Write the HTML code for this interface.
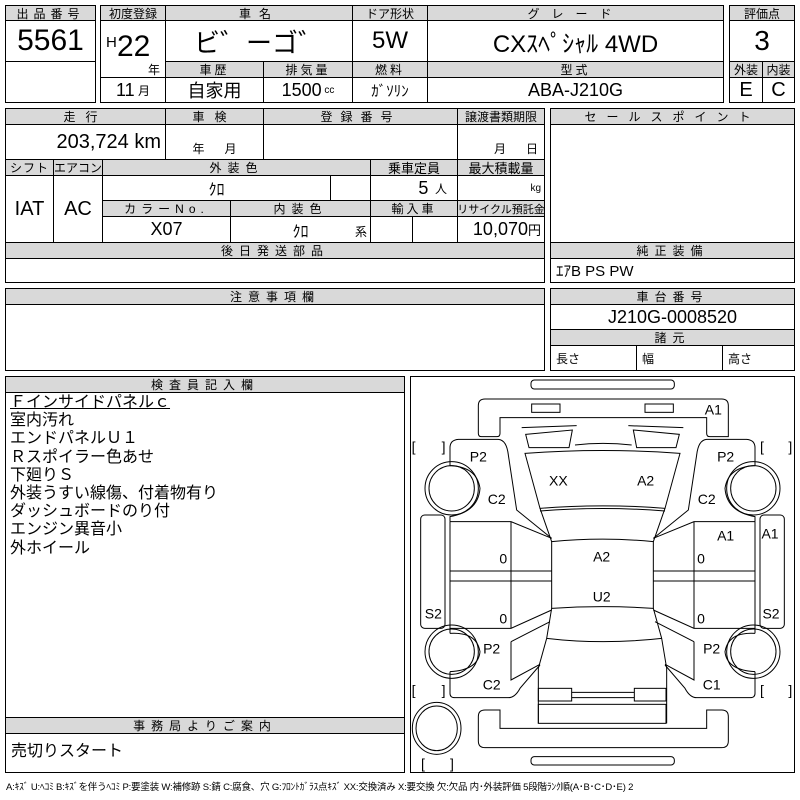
<!DOCTYPE html>
<html><head><meta charset="utf-8"><style>
body{margin:0;background:#fff;}
#p{position:relative;width:800px;height:800px;overflow:hidden;font-family:"Liberation Sans","Noto Sans CJK JP",sans-serif;color:#000;}
.c{position:absolute;box-sizing:border-box;border:1px solid #000;display:flex;align-items:center;justify-content:center;white-space:nowrap;}
.h{background:#d9d9d9;font-size:12px;letter-spacing:3px;}
.v{font-size:18px;}
.t{position:absolute;white-space:nowrap;}
</style></head><body><div id="p">
<div class="c h" style="left:5px;top:5px;width:91px;height:16px;letter-spacing:5px">出品番号</div>
<div class="c" style="left:5px;top:20px;width:91px;height:42px;font-size:30px">5561</div>
<div class="c" style="left:5px;top:61px;width:91px;height:42px"></div>
<div class="c h" style="left:100px;top:5px;width:66px;height:16px;letter-spacing:0">初度登録</div>
<div class="c h" style="left:165px;top:5px;width:188px;height:16px;letter-spacing:8px">車名</div>
<div class="c h" style="left:352px;top:5px;width:76px;height:16px;letter-spacing:0">ドア形状</div>
<div class="c h" style="left:427px;top:5px;width:297px;height:16px;letter-spacing:12px">グレード</div>
<div class="c" style="left:100px;top:20px;width:66px;height:58px"></div>
<div class="t" style="left:106px;top:34px;font-size:15px">H</div>
<div class="t" style="left:117px;top:30px;font-size:30px">22</div>
<div class="t" style="left:148px;top:61px;font-size:12px">年</div>
<div class="c" style="left:165px;top:20px;width:188px;height:42px;font-size:26px">ビ゛ーゴ゛</div>
<div class="c" style="left:352px;top:20px;width:76px;height:42px;font-size:24px">5W</div>
<div class="c" style="left:427px;top:20px;width:297px;height:42px;font-size:24px">CXｽﾍﾟｼｬﾙ 4WD</div>
<div class="c h" style="left:165px;top:61px;width:99px;height:17px">車歴</div>
<div class="c h" style="left:263px;top:61px;width:90px;height:17px">排気量</div>
<div class="c h" style="left:352px;top:61px;width:76px;height:17px">燃料</div>
<div class="c h" style="left:427px;top:61px;width:297px;height:17px">型式</div>
<div class="c" style="left:100px;top:77px;width:66px;height:26px;font-size:18px">11 <span style="font-size:12px">&nbsp;月</span></div>
<div class="c v" style="left:165px;top:77px;width:99px;height:26px">自家用</div>
<div class="c v" style="left:263px;top:77px;width:90px;height:26px">1500 <span style="font-size:10px">&nbsp;cc</span></div>
<div class="c" style="left:352px;top:77px;width:76px;height:26px;font-size:15px">ｶﾞｿﾘﾝ</div>
<div class="c v" style="left:427px;top:77px;width:297px;height:26px">ABA-J210G</div>
<div class="c h" style="left:729px;top:5px;width:66px;height:16px;letter-spacing:0">評価点</div>
<div class="c" style="left:729px;top:20px;width:66px;height:42px;font-size:28px">3</div>
<div class="c h" style="left:729px;top:61px;width:34px;height:17px;letter-spacing:0">外装</div>
<div class="c h" style="left:762px;top:61px;width:33px;height:17px;letter-spacing:0">内装</div>
<div class="c" style="left:729px;top:77px;width:34px;height:26px;font-size:20px">E</div>
<div class="c" style="left:762px;top:77px;width:33px;height:26px;font-size:20px">C</div>
<div class="c h" style="left:5px;top:108px;width:161px;height:17px;letter-spacing:10px">走行</div>
<div class="c h" style="left:165px;top:108px;width:99px;height:17px;letter-spacing:10px">車検</div>
<div class="c h" style="left:263px;top:108px;width:195px;height:17px;letter-spacing:8px">登録番号</div>
<div class="c h" style="left:457px;top:108px;width:88px;height:17px;letter-spacing:0">譲渡書類期限</div>
<div class="c" style="left:5px;top:124px;width:161px;height:36px;font-size:20px;justify-content:flex-end;padding-right:4px">203,724 km</div>
<div class="c" style="left:165px;top:124px;width:99px;height:36px;font-size:12px;align-items:flex-end;padding-bottom:2px">年&nbsp;&nbsp;&nbsp;&nbsp;&nbsp;&nbsp;月</div>
<div class="c" style="left:263px;top:124px;width:195px;height:36px"></div>
<div class="c" style="left:457px;top:124px;width:88px;height:36px;font-size:12px;align-items:flex-end;justify-content:flex-end;padding:0 6px 2px 0">月&nbsp;&nbsp;&nbsp;&nbsp;&nbsp;&nbsp;日</div>
<div class="c h" style="left:5px;top:159px;width:49px;height:17px;letter-spacing:1px">シフト</div>
<div class="c h" style="left:53px;top:159px;width:50px;height:17px;letter-spacing:0">エアコン</div>
<div class="c h" style="left:102px;top:159px;width:269px;height:17px;letter-spacing:6px">外装色</div>
<div class="c h" style="left:370px;top:159px;width:88px;height:17px;letter-spacing:0;font-size:13px">乗車定員</div>
<div class="c h" style="left:457px;top:159px;width:88px;height:17px;letter-spacing:0;font-size:13px">最大積載量</div>
<div class="c v" style="left:5px;top:175px;width:49px;height:68px;font-size:20px">IAT</div>
<div class="c v" style="left:53px;top:175px;width:50px;height:68px;font-size:20px">AC</div>
<div class="c" style="left:102px;top:175px;width:229px;height:26px;font-size:16px">ｸﾛ</div>
<div class="c" style="left:330px;top:175px;width:41px;height:26px"></div>
<div class="c v" style="left:370px;top:175px;width:88px;height:26px;justify-content:flex-end;padding-right:10px">5 <span style="font-size:12px">&nbsp;&nbsp;人</span></div>
<div class="c" style="left:457px;top:175px;width:88px;height:26px;font-size:10px;justify-content:flex-end;padding-right:3px">kg</div>
<div class="c h" style="left:102px;top:200px;width:129px;height:17px;letter-spacing:5px">カラーNo.</div>
<div class="c h" style="left:230px;top:200px;width:141px;height:17px;letter-spacing:6px">内装色</div>
<div class="c h" style="left:370px;top:200px;width:88px;height:17px">輸入車</div>
<div class="c h" style="left:457px;top:200px;width:88px;height:17px;letter-spacing:0;font-size:11px">リサイクル預託金</div>
<div class="c v" style="left:102px;top:216px;width:129px;height:27px">X07</div>
<div class="c" style="left:230px;top:216px;width:141px;height:27px;font-size:16px">ｸﾛ<span style="position:absolute;right:3px;bottom:2px;font-size:12px">系</span></div>
<div class="c" style="left:370px;top:216px;width:43px;height:27px"></div>
<div class="c" style="left:412px;top:216px;width:46px;height:27px"></div>
<div class="c" style="left:457px;top:216px;width:88px;height:27px;font-size:18px;justify-content:flex-end;padding-right:3px">10,070<span style="font-size:13px">円</span></div>
<div class="c h" style="left:5px;top:242px;width:540px;height:17px;letter-spacing:6px">後日発送部品</div>
<div class="c" style="left:5px;top:258px;width:540px;height:25px"></div>
<div class="c h" style="left:550px;top:108px;width:245px;height:17px;letter-spacing:10px">セールスポイント</div>
<div class="c" style="left:550px;top:124px;width:245px;height:119px"></div>
<div class="c h" style="left:550px;top:242px;width:245px;height:17px;letter-spacing:6px">純正装備</div>
<div class="c" style="left:550px;top:258px;width:245px;height:25px;font-size:15px;justify-content:flex-start;padding-left:5px">ｴｱB PS PW</div>
<div class="c h" style="left:5px;top:288px;width:540px;height:17px;letter-spacing:6px">注意事項欄</div>
<div class="c" style="left:5px;top:304px;width:540px;height:67px"></div>
<div class="c h" style="left:550px;top:288px;width:245px;height:17px;letter-spacing:6px">車台番号</div>
<div class="c v" style="left:550px;top:304px;width:245px;height:26px">J210G-0008520</div>
<div class="c h" style="left:550px;top:329px;width:245px;height:17px;letter-spacing:6px">諸元</div>
<div class="c" style="left:550px;top:345px;width:87px;height:26px;font-size:12px;justify-content:flex-start;padding-left:5px">長さ</div>
<div class="c" style="left:636px;top:345px;width:87px;height:26px;font-size:12px;justify-content:flex-start;padding-left:5px">幅</div>
<div class="c" style="left:722px;top:345px;width:73px;height:26px;font-size:12px;justify-content:flex-start;padding-left:5px">高さ</div>
<div class="c h" style="left:5px;top:376px;width:400px;height:17px;letter-spacing:6px">検査員記入欄</div>
<div class="c" style="left:5px;top:392px;width:400px;height:326px"></div>
<div class="t" style="left:10px;top:394px;font-size:16px;line-height:18.2px;">
<span style="text-decoration:underline">Ｆインサイドパネルｃ</span><br>室内汚れ<br>エンドパネルＵ１<br>Ｒスポイラー色あせ<br>下廻りＳ<br>外装うすい線傷、付着物有り<br>ダッシュボードのり付<br>エンジン異音小<br>外ホイール</div>
<div class="c h" style="left:5px;top:717px;width:400px;height:17px;letter-spacing:6px">事務局よりご案内</div>
<div class="c" style="left:5px;top:733px;width:400px;height:40px;font-size:16px;justify-content:flex-start;align-items:flex-start;padding:3px 0 0 5px;">売切りスタート</div>
<div class="c" style="left:410px;top:376px;width:385px;height:397px"></div>
<svg class="t" style="left:405px;top:375px" width="395" height="400" viewBox="0 0 1185 1200">
<g fill="none" stroke="#000" stroke-width="3">
<rect x="378" y="15" width="430" height="27" rx="10"/>
<path d="M240,72 H950 Q970,72 970,92 V185 H915 Q905,185 905,175 V128 H285 V175 Q285,185 275,185 H230 Q220,185 220,175 V92 Q220,72 240,72Z"/>
<rect x="380" y="87" width="85" height="25"/><rect x="720" y="87" width="85" height="25"/>
<path d="M350,158 L515,152 M670,152 L835,158"/>
<path d="M362,178 L502,165 L492,218 L372,218Z M685,165 L823,178 L813,218 L695,218Z"/>
<path d="M510,210 Q593,200 680,210"/>
<path d="M360,235 Q593,218 825,235 L780,400 Q593,385 405,400Z"/>
<path d="M405,408 Q593,393 780,408"/>
<path d="M405,400 L440,500 M780,400 L745,500"/>
<path d="M440,500 Q593,485 745,500 V700 Q593,690 440,700Z"/>
<path d="M440,700 L425,790 L400,880 V1045 M745,700 L770,790 L785,880 V1045"/>
<path d="M425,790 Q593,810 770,790"/>
<rect x="400" y="940" width="100" height="38"/><rect x="688" y="940" width="95" height="38"/>
<path d="M500,952 H688 M500,968 H688"/>
<rect x="400" y="988" width="383" height="57"/>
<path d="M240,1005 H285 V1060 H905 V1005 H950 Q970,1005 970,1025 V1098 Q970,1118 950,1118 H240 Q220,1118 220,1098 V1025 Q220,1005 240,1005Z"/>
<rect x="378" y="1145" width="430" height="25" rx="10"/>
<circle cx="140" cy="340" r="80"/><circle cx="140" cy="340" r="68"/>
<circle cx="1045" cy="340" r="80"/><circle cx="1045" cy="340" r="68"/>
<circle cx="140" cy="830" r="80"/><circle cx="140" cy="830" r="68"/>
<circle cx="1045" cy="830" r="80"/><circle cx="1045" cy="830" r="68"/>
<ellipse cx="95" cy="1060" rx="73" ry="78"/><ellipse cx="95" cy="1060" rx="62" ry="67"/>
<rect x="47" y="420" width="73" height="340" rx="12"/><rect x="1065" y="420" width="73" height="340" rx="12"/>
<g id="L">
<path d="M135,272 V218 Q135,195 160,193 H280 Q305,195 310,240 L335,405 L440,490"/>
<path d="M135,272 Q215,275 225,340 Q220,410 135,425 V440"/>
<path d="M135,440 H318 L440,490 M135,588 H440 M135,618 H440 M135,440 V760 H318 L440,705 M318,440 V760"/>
<path d="M135,760 V775 M135,890 V955 Q135,968 150,968 H310 Q330,968 345,940 L405,870 M318,800 L435,740 M318,800 V915 L405,868"/>
<path d="M135,775 Q215,770 225,830 Q220,885 135,890"/>
</g>
<use href="#L" transform="translate(1185,0) scale(-1,1)"/>
</g>
<g font-family="Liberation Sans, sans-serif" font-size="42" text-anchor="middle">
<text x="925" y="118">A1</text><text x="220" y="260">P2</text><text x="962" y="260">P2</text>
<text x="460" y="332">XX</text><text x="722" y="332">A2</text>
<text x="275" y="387">C2</text><text x="905" y="387">C2</text>
<text x="962" y="497">A1</text><text x="1095" y="490">A1</text>
<text x="295" y="565">0</text><text x="888" y="565">0</text><text x="295" y="745">0</text><text x="888" y="745">0</text>
<text x="590" y="560">A2</text><text x="590" y="680">U2</text>
<text x="85" y="730">S2</text><text x="1098" y="730">S2</text>
<text x="260" y="835">P2</text><text x="920" y="835">P2</text>
<text x="260" y="943">C2</text><text x="920" y="943">C1</text>
<text x="20" y="230" text-anchor="start">[</text><text x="110" y="230" text-anchor="start">]</text>
<text x="1065" y="230" text-anchor="start">[</text><text x="1150" y="230" text-anchor="start">]</text>
<text x="20" y="960" text-anchor="start">[</text><text x="110" y="960" text-anchor="start">]</text>
<text x="1065" y="960" text-anchor="start">[</text><text x="1150" y="960" text-anchor="start">]</text>
<text x="48" y="1180" text-anchor="start">[</text><text x="135" y="1180" text-anchor="start">]</text>
</g>
</svg>
<div class="t" style="left:6px;top:779px;font-size:9.5px;letter-spacing:-0.2px">A:ｷｽﾞ U:ﾍｺﾐ B:ｷｽﾞを伴うﾍｺﾐ P:要塗装 W:補修跡 S:錆 C:腐食、穴 G:ﾌﾛﾝﾄｶﾞﾗｽ点ｷｽﾞ XX:交換済み X:要交換 欠:欠品 内･外装評価 5段階ﾗﾝｸ順(A･B･C･D･E) 2</div>
</div></body></html>
